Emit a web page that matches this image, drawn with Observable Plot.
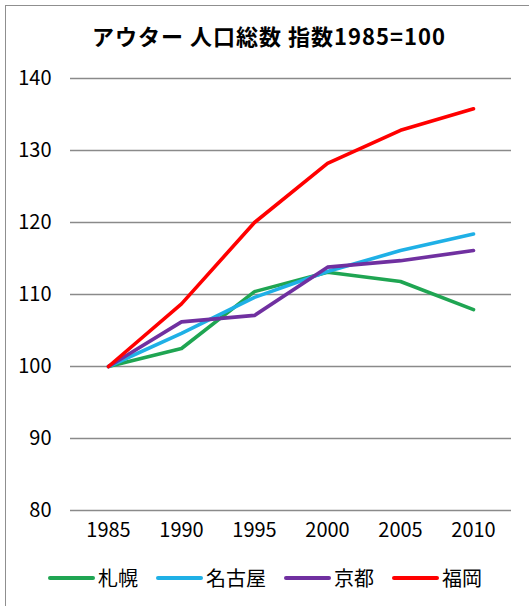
<!DOCTYPE html>
<html>
<head>
<meta charset="utf-8">
<script src="https://cdn.jsdelivr.net/npm/d3@7"></script>
<script src="https://cdn.jsdelivr.net/npm/@observablehq/plot@0.6"></script>
<style>
  html, body { margin: 0; padding: 0; background: #fff; overflow: hidden; }
  #frame {
    position: relative; width: 529px; height: 606px; overflow: hidden;
    font-family: "Noto Sans CJK JP", "Noto Sans", sans-serif; color: #000;
  }
  #border {
    position: absolute; left: 5px; top: 5px; width: 540px; height: 620px;
    border: 1.5px solid #8f8f8f; box-sizing: border-box;
  }
  #title {
    position: absolute; left: 0; width: 538px; top: 22px; text-align: center;
    font-size: 22px; font-weight: bold; line-height: 26px; white-space: pre;
    letter-spacing: 1px;
  }
  #chart { position: absolute; left: 0; top: 60px; }
  #legend {
    position: absolute; left: 48px; top: 564px; display: flex; align-items: center;
    font-size: 20px; line-height: 28px;
  }
  .item { display: flex; align-items: center; margin-right: 18px; }
  .swatch { width: 47px; height: 4px; border-radius: 2px; margin-right: 3px; }
</style>
</head>
<body>
<div id="frame">
  <div id="border"></div>
  <div id="title"></div>
  <div id="chart"></div>
  <div id="legend"></div>
</div>
<script>
// Population index, 1985 = 100
const years = [1985, 1990, 1995, 2000, 2005, 2010];
const cities = ["札幌", "名古屋", "京都", "福岡"];
const sapporo = [100, 102.5, 110.4, 113.1, 111.8, 107.9];
const nagoya  = [100, 104.6, 109.6, 113.2, 116.1, 118.4];
const kyoto   = [100, 106.2, 107.1, 113.8, 114.7, 116.1];
const fukuoka = [100, 108.7, 120.0, 128.2, 132.8, 135.8];
const colors = ["#1fa552", "#1fb0e6", "#7030a0", "#ff0000"];
const yTicks = [80, 90, 100, 110, 120, 130, 140];
const titleText = "アウター 人口総数 指数1985=100";

const seriesValues = [sapporo, nagoya, kyoto, fukuoka];
const rows = cities.flatMap((city, i) =>
  years.map((year, j) => ({city, year, value: seriesValues[i][j]})));

document.getElementById("title").textContent = titleText;

const chart = Plot.plot({
  width: 529,
  height: 485,
  marginLeft: 70,
  marginRight: 18,
  marginTop: 18,
  marginBottom: 35,
  style: {fontFamily: '"Noto Sans CJK JP", "Noto Sans", sans-serif', fontSize: "20px", color: "#000", background: "transparent"},
  x: {type: "point", domain: years, padding: 0.5, label: null, tickSize: 0, tickPadding: 12, tickFormat: d => String(d)},
  y: {domain: [80, 140], ticks: yTicks, label: null, tickSize: 0, tickPadding: 19},
  color: {domain: cities, range: colors},
  marks: [
    Plot.ruleY(yTicks, {stroke: "#8a8a8a", strokeWidth: 1.5}),
    Plot.line(rows, {x: "year", y: "value", z: "city", stroke: "city", strokeWidth: 3.6, strokeLinejoin: "round", strokeLinecap: "round"})
  ]
});
document.getElementById("chart").appendChild(chart);

const legend = d3.select("#legend");
cities.forEach((c, i) => {
  const item = legend.append("div").attr("class", "item");
  item.append("div").attr("class", "swatch").style("background", colors[i]);
  item.append("span").text(c);
});
</script>
</body>
</html>
